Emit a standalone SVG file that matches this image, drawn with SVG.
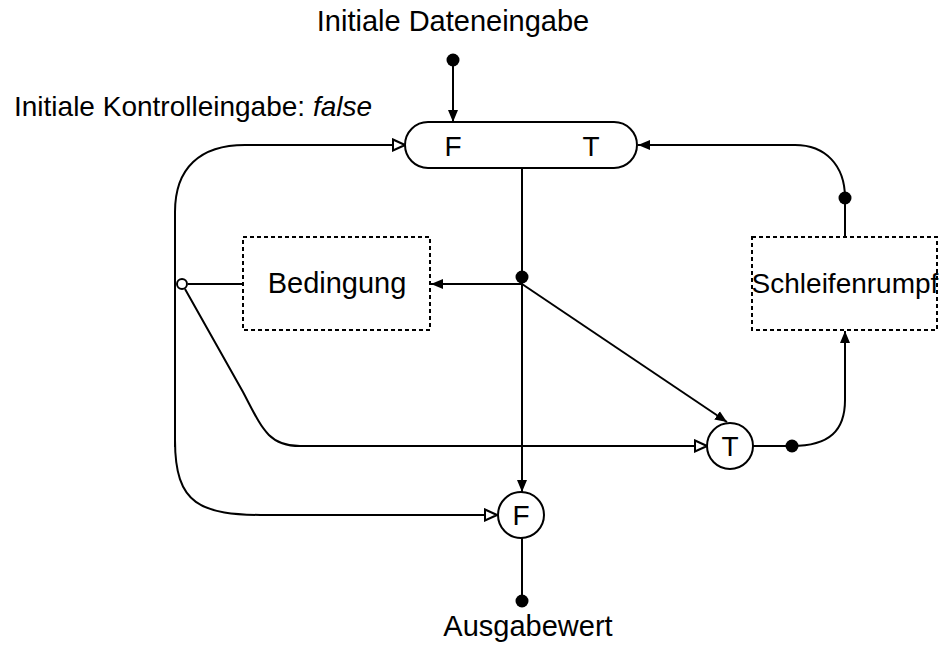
<svg xmlns="http://www.w3.org/2000/svg" width="941" height="645" viewBox="0 0 941 645">
  <style>
    text { font-family: "Liberation Sans", Arial, sans-serif; font-size: 28px; fill: #000; }
    .big { font-size: 29px; }
    .mid { text-anchor: middle; }
    .it { font-style: italic; }
    .shape { fill: #fff; stroke: #000; stroke-width: 2; }
    .dashed { fill: #fff; stroke: #000; stroke-width: 2; stroke-dasharray: 4 3; }
    .wire { fill: none; stroke: #000; stroke-width: 2; }
    .dot { fill: #000; stroke: none; }
  </style>
  <defs>
    <marker id="arrowFilled" viewBox="0 0 12 12" refX="12" refY="6" markerWidth="12" markerHeight="12" markerUnits="userSpaceOnUse" orient="auto">
      <path d="M0,1 L12,6 L0,11 z" fill="#000"/>
    </marker>
    <marker id="arrowOpen" viewBox="0 0 14 14" refX="13" refY="7" markerWidth="14" markerHeight="14" markerUnits="userSpaceOnUse" orient="auto">
      <path d="M1,1.5 L13,7 L1,12.5 z" fill="#fff" stroke="#000" stroke-width="2"/>
    </marker>
  </defs>

  <!-- free-standing labels -->
  <text class="mid big" x="453" y="31">Initiale Dateneingabe</text>
  <text x="14" y="116">Initiale Kontrolleingabe: <tspan class="it">false</tspan></text>
  <text class="mid big" x="528" y="636">Ausgabewert</text>

  <!-- connectors -->
  <g id="connectors">
    <!-- initial data input -->
    <circle class="dot" cx="453" cy="60" r="6.5"/>
    <path class="wire" d="M453,60 L453,122" marker-end="url(#arrowFilled)"/>
    <!-- merge output down to the F gate -->
    <path class="wire" d="M522,168 L522,492" marker-end="url(#arrowFilled)"/>
    <circle class="dot" cx="522" cy="277" r="6.5"/>
    <!-- fork to condition -->
    <path class="wire" d="M522,284 L431,284" marker-end="url(#arrowFilled)"/>
    <!-- fork to T gate -->
    <path class="wire" d="M522,284 L727,422" marker-end="url(#arrowFilled)"/>
    <!-- condition output -->
    <path class="wire" d="M243,284 L188,284"/>
    <!-- control loop back to merge F input -->
    <path class="wire" d="M175,447 L175,212 C175,168 200,145 245,145 L405,145" marker-end="url(#arrowOpen)"/>
    <!-- control to F gate -->
    <path class="wire" d="M175,440 C175,505 200,515 267,515 L497,515" marker-end="url(#arrowOpen)"/>
    <!-- control to T gate -->
    <path class="wire" d="M185,289 L243,392 C262,428 268,446 300,446 L707,446" marker-end="url(#arrowOpen)"/>
    <circle cx="182" cy="284" r="5" fill="#fff" stroke="#000" stroke-width="2"/>
    <!-- T gate to loop body -->
    <path class="wire" d="M753,446 L792,446 C830,446 845,430 845,400 L845,331" marker-end="url(#arrowFilled)"/>
    <circle class="dot" cx="792" cy="446" r="6.5"/>
    <!-- loop body back to merge T input -->
    <path class="wire" d="M845,237 L845,198 C845,165 825,145 795,145 L638,145" marker-end="url(#arrowFilled)"/>
    <circle class="dot" cx="845" cy="198" r="6.5"/>
    <!-- F gate to output -->
    <path class="wire" d="M522,538 L522,601"/>
    <circle class="dot" cx="522" cy="601" r="6.5"/>
  </g>

  <!-- merge node -->
  <g id="merge">
    <rect class="shape" x="405" y="122" width="232" height="46" rx="23" ry="23"/>
    <text class="mid" x="453" y="156">F</text>
    <text class="mid" x="591" y="156">T</text>
  </g>

  <!-- condition -->
  <g id="bedingung">
    <rect class="dashed" x="243" y="237" width="187" height="93"/>
    <text class="mid big" x="337" y="293">Bedingung</text>
  </g>

  <!-- loop body -->
  <g id="schleifenrumpf">
    <rect class="dashed" x="752" y="237" width="185" height="93"/>
    <text class="mid" x="845" y="293">Schleifenrumpf</text>
  </g>

  <!-- T gate -->
  <g id="gate-t">
    <circle class="shape" cx="730" cy="446" r="23"/>
    <text class="mid" x="730" y="456">T</text>
  </g>

  <!-- F gate -->
  <g id="gate-f">
    <circle class="shape" cx="521" cy="515" r="23"/>
    <text class="mid" x="521" y="525">F</text>
  </g>
</svg>
